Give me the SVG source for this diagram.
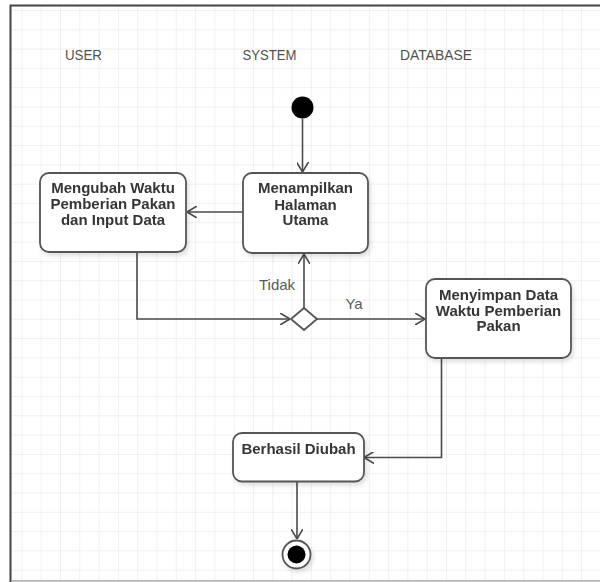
<svg xmlns="http://www.w3.org/2000/svg" width="600" height="582" viewBox="0 0 600 582">
  <style>
    .lane { font-family: "Liberation Sans", Arial, sans-serif; font-size: 15px; fill: #505050; }
    .act { fill: #ffffff; stroke: #555555; stroke-width: 1.8; }
    .label { font-family: "Liberation Sans", Arial, sans-serif; font-size: 15px; font-weight: bold; fill: #363636; text-anchor: middle; }
    .guard { font-family: "Liberation Sans", Arial, sans-serif; font-size: 15px; fill: #5a5a5a; text-anchor: middle; }
    .flow { fill: none; stroke: #4a4a4a; stroke-width: 1.6; marker-end: url(#open-arrow); }
  </style>
  <defs>
    <pattern id="grid" x="2.1" y="10" width="19.3" height="19.3" patternUnits="userSpaceOnUse">
      <path d="M0,0 H19.3 M0,0 V19.3" fill="none" stroke="#e2e2e2" stroke-width="1"/>
    </pattern>
    <marker id="open-arrow" viewBox="0 0 10 12" refX="10" refY="6" markerWidth="10" markerHeight="12" markerUnits="userSpaceOnUse" orient="auto">
      <path d="M0,0 L10,6 L0,12" fill="none" stroke="#4a4a4a" stroke-width="1.6"/>
    </marker>
    <filter id="shadow" x="-10%" y="-10%" width="130%" height="140%">
      <feDropShadow dx="2" dy="3" stdDeviation="2" flood-color="#000000" flood-opacity="0.12"/>
    </filter>
  </defs>

  <!-- canvas -->
  <rect x="0" y="0" width="600" height="582" fill="#ffffff"/>
  <rect x="11" y="6" width="589" height="575" fill="url(#grid)"/>
  <path d="M10.5,582 V5.5 H600" fill="none" stroke="#444444" stroke-width="2"/>
  <path d="M11,580.8 H600" fill="none" stroke="#9a9a9a" stroke-width="1.2"/>

  <!-- swimlane headers -->
  <g id="lane-headers">
    <text class="lane" x="65" y="60" textLength="37" lengthAdjust="spacingAndGlyphs">USER</text>
    <text class="lane" x="242.5" y="60" textLength="54" lengthAdjust="spacingAndGlyphs">SYSTEM</text>
    <text class="lane" x="400" y="60" textLength="72" lengthAdjust="spacingAndGlyphs">DATABASE</text>
  </g>

  <!-- connectors -->
  <g id="connectors">
    <path class="flow" d="M302.5,119 V172"/>
    <path class="flow" d="M243,212 H187"/>
    <path class="flow" d="M137,253 V319 H290"/>
    <path class="flow" d="M304,308 V254"/>
    <path class="flow" d="M317,319 H425"/>
    <path class="flow" d="M441.5,358 V457.5 H364"/>
    <path class="flow" d="M297,482 V539"/>
    <text class="guard" x="277" y="290">Tidak</text>
    <text class="guard" x="354" y="309">Ya</text>
  </g>

  <!-- start -->
  <g id="start">
    <circle cx="302.5" cy="107.5" r="11" fill="#000000"/>
  </g>

  <g id="mengubah-waktu" filter="url(#shadow)">
    <rect class="act" x="40" y="173" width="146" height="79" rx="9"/>
    <text class="label" x="113" y="193">Mengubah Waktu</text>
    <text class="label" x="113" y="209">Pemberian Pakan</text>
    <text class="label" x="113" y="225">dan Input Data</text>
  </g>

  <g id="menampilkan-halaman" filter="url(#shadow)">
    <rect class="act" x="243" y="173" width="125" height="80" rx="9"/>
    <text class="label" x="305.5" y="193">Menampilkan</text>
    <text class="label" x="305.5" y="209.5">Halaman</text>
    <text class="label" x="305.5" y="225">Utama</text>
  </g>

  <g id="decision">
    <polygon points="291,319 304,308 317,319 304,330" fill="#ffffff" stroke="#555555" stroke-width="1.8"/>
  </g>

  <g id="menyimpan-data" filter="url(#shadow)">
    <rect class="act" x="426" y="279" width="145" height="79" rx="9"/>
    <text class="label" x="498.5" y="300">Menyimpan Data</text>
    <text class="label" x="498.5" y="315.5">Waktu Pemberian</text>
    <text class="label" x="498.5" y="331">Pakan</text>
  </g>

  <g id="berhasil-diubah" filter="url(#shadow)">
    <rect class="act" x="233" y="433" width="131" height="48.5" rx="9"/>
    <text class="label" x="298.5" y="453.5">Berhasil Diubah</text>
  </g>

  <!-- end -->
  <g id="end" filter="url(#shadow)">
    <circle cx="296.5" cy="554.5" r="14" fill="#ffffff" stroke="#555555" stroke-width="1.8"/>
    <circle cx="296.5" cy="554.5" r="9" fill="#000000"/>
  </g>
</svg>
